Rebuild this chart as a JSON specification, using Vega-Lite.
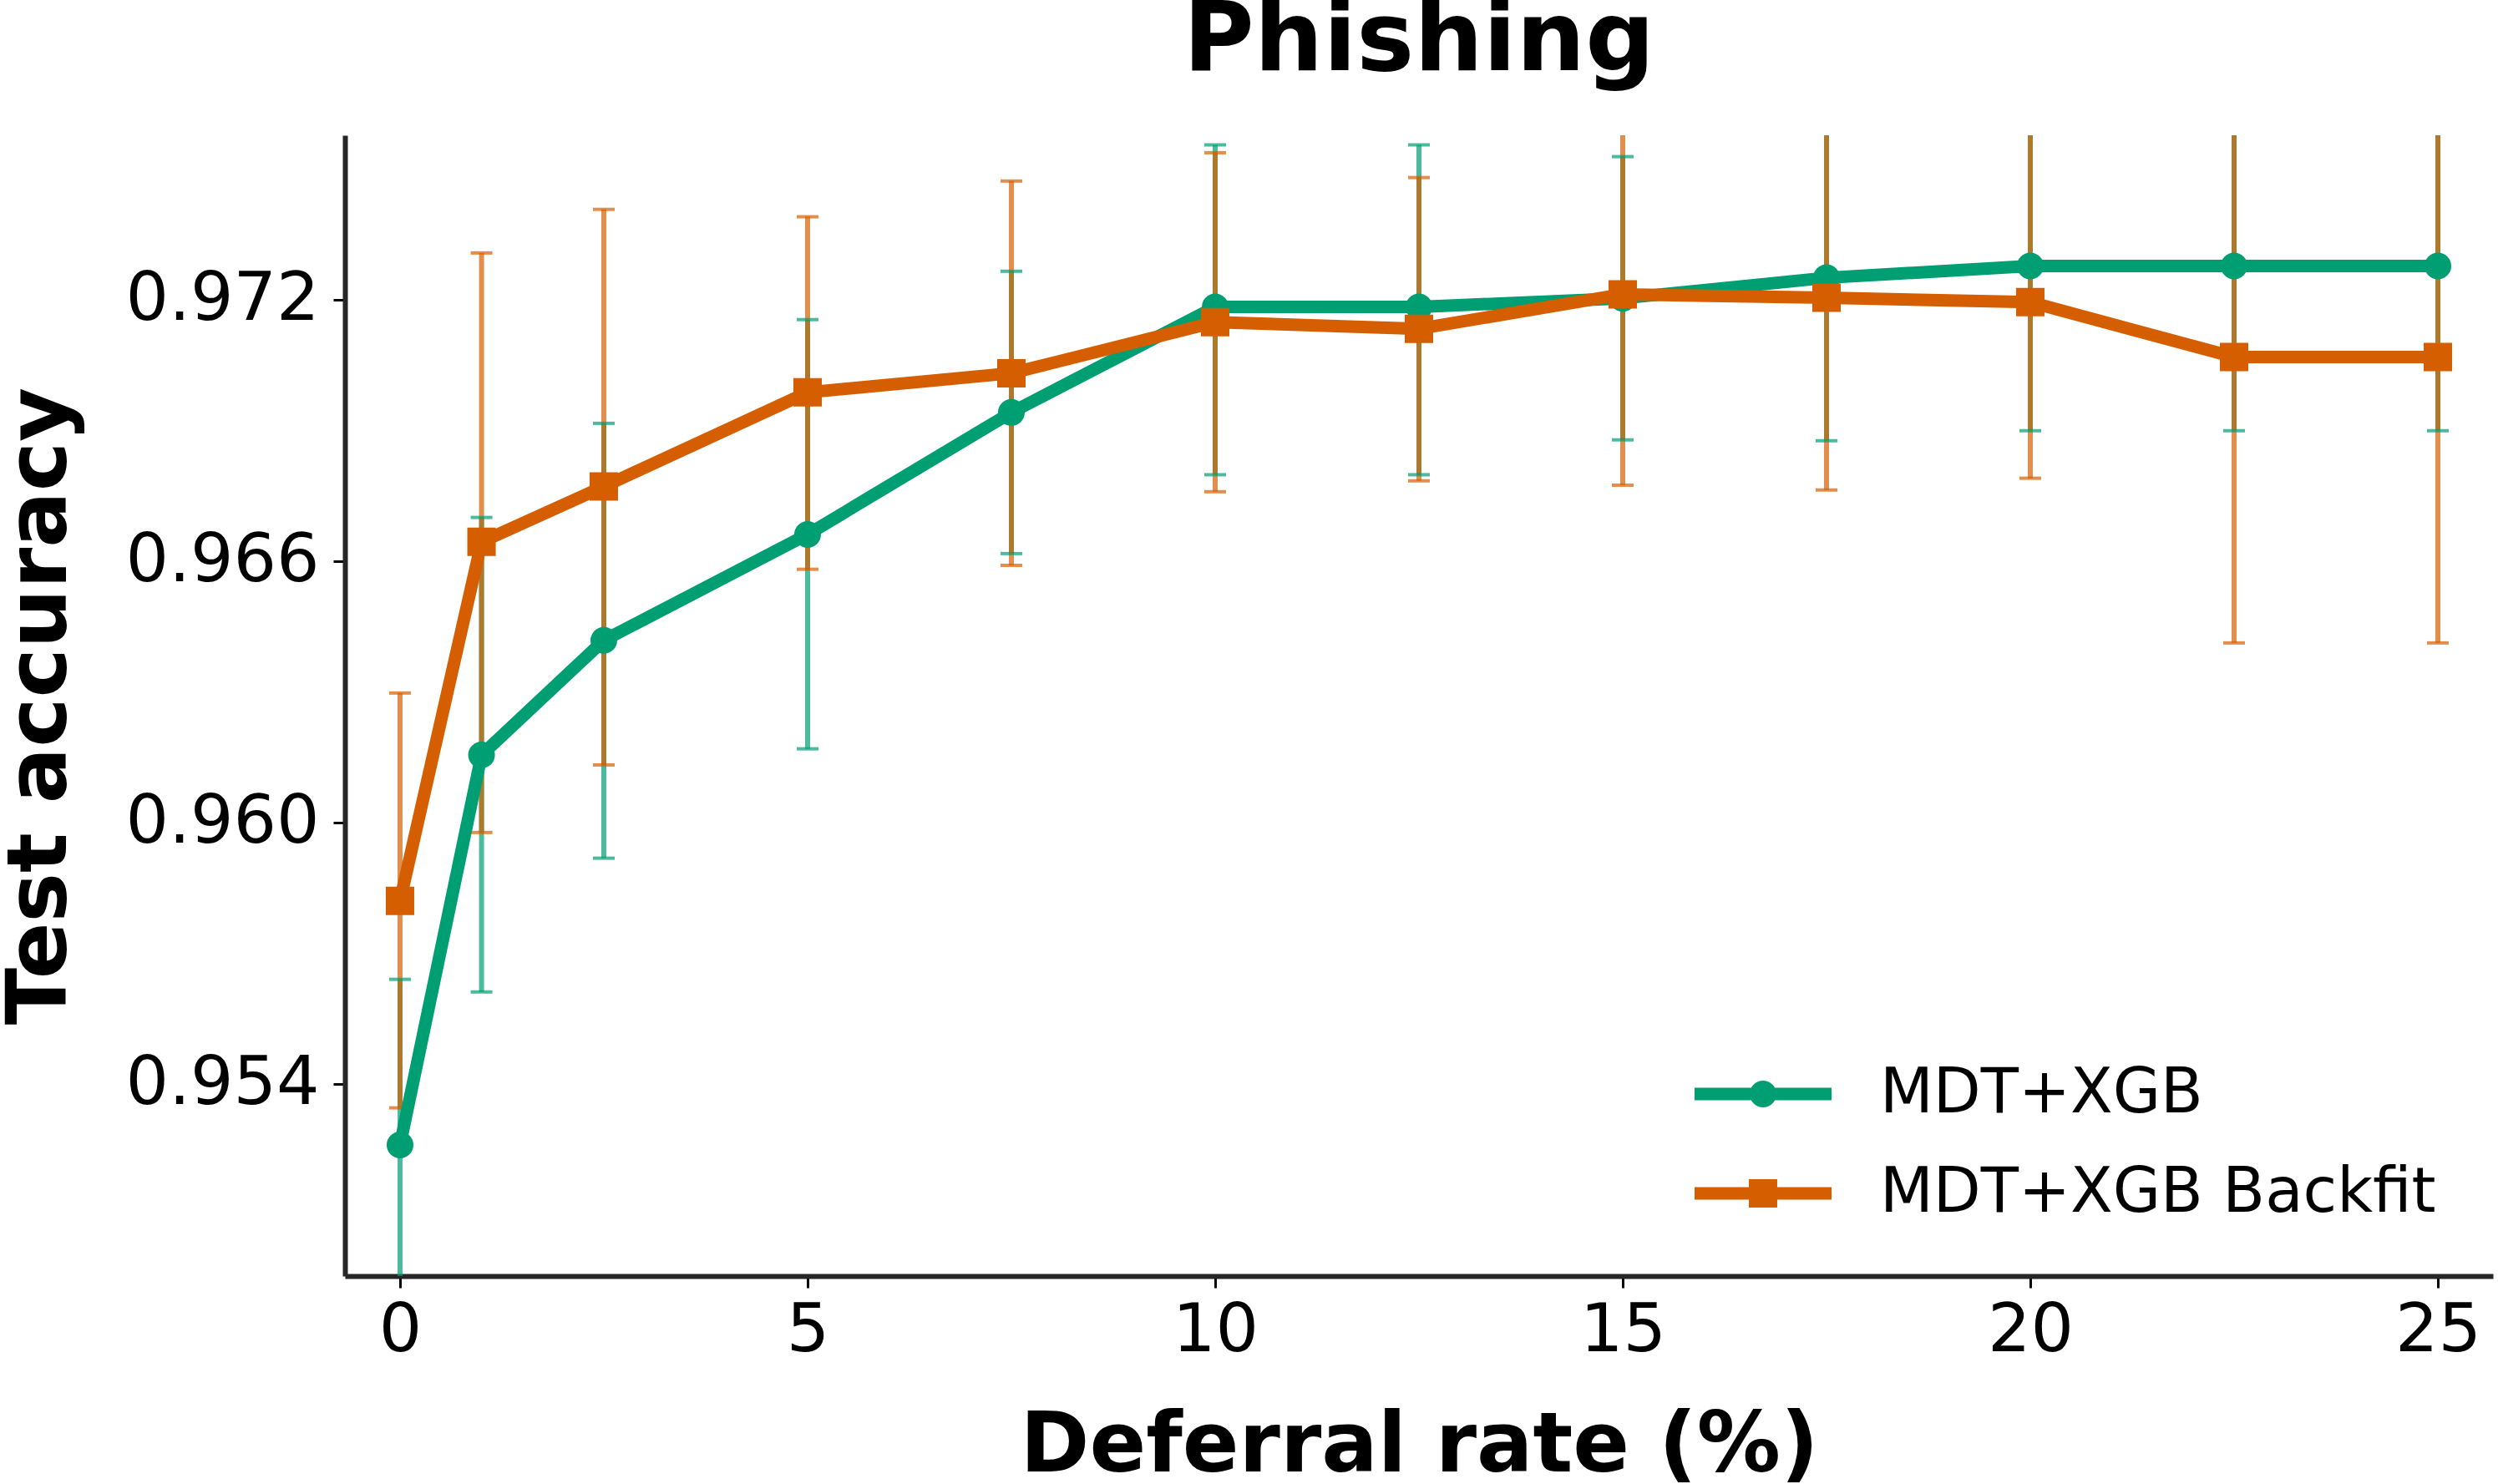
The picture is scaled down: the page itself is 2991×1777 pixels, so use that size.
{
  "$schema": "https://vega.github.io/schema/vega-lite/v6.json",
  "width": 2572,
  "height": 1366,
  "autosize": {"type": "none"},
  "padding": {"left": 413, "top": 162, "right": 6, "bottom": 249},
  "background": "white",
  "title": {"text": "Phishing", "fontSize": 116, "fontWeight": "bold", "font": "DejaVu Sans", "color": "black", "anchor": "middle", "frame": "group", "baseline": "bottom", "offset": -62},
  "config": {
    "view": {"stroke": null},
    "font": "DejaVu Sans",
    "axis": {"grid": false, "labelFont": "DejaVu Sans", "titleFont": "DejaVu Sans", "labelColor": "black", "titleColor": "black", "tickColor": "black", "tickWidth": 3, "tickSize": 14, "domainColor": "#262626", "domainWidth": 6, "labelLimit": 600, "titleLimit": 3000, "labelOverlap": false, "labelFlush": false, "titleFontWeight": "bold"}
  },
  "data": {"values": [
    {"series": "MDT+XGB", "rate": 0, "acc": 0.95260, "lo": 0.94880, "hi": 0.95640},
    {"series": "MDT+XGB", "rate": 1, "acc": 0.96155, "lo": 0.95611, "hi": 0.96700},
    {"series": "MDT+XGB", "rate": 2.5, "acc": 0.96418, "lo": 0.95918, "hi": 0.96916},
    {"series": "MDT+XGB", "rate": 5, "acc": 0.96661, "lo": 0.96169, "hi": 0.97154},
    {"series": "MDT+XGB", "rate": 7.5, "acc": 0.96941, "lo": 0.96617, "hi": 0.97265},
    {"series": "MDT+XGB", "rate": 10, "acc": 0.97183, "lo": 0.96798, "hi": 0.97555},
    {"series": "MDT+XGB", "rate": 12.5, "acc": 0.97183, "lo": 0.96798, "hi": 0.97555},
    {"series": "MDT+XGB", "rate": 15, "acc": 0.97203, "lo": 0.96878, "hi": 0.97528},
    {"series": "MDT+XGB", "rate": 17.5, "acc": 0.97250, "lo": 0.96876, "hi": 0.97624},
    {"series": "MDT+XGB", "rate": 20, "acc": 0.97277, "lo": 0.96899, "hi": 0.97655},
    {"series": "MDT+XGB", "rate": 22.5, "acc": 0.97277, "lo": 0.96899, "hi": 0.97655},
    {"series": "MDT+XGB", "rate": 25, "acc": 0.97277, "lo": 0.96899, "hi": 0.97655},
    {"series": "MDT+XGB Backfit", "rate": 0, "acc": 0.95820, "lo": 0.95345, "hi": 0.96297},
    {"series": "MDT+XGB Backfit", "rate": 1, "acc": 0.96644, "lo": 0.95977, "hi": 0.97307},
    {"series": "MDT+XGB Backfit", "rate": 2.5, "acc": 0.96771, "lo": 0.96132, "hi": 0.97407},
    {"series": "MDT+XGB Backfit", "rate": 5, "acc": 0.96987, "lo": 0.96581, "hi": 0.97390},
    {"series": "MDT+XGB Backfit", "rate": 7.5, "acc": 0.97031, "lo": 0.96590, "hi": 0.97472},
    {"series": "MDT+XGB Backfit", "rate": 10, "acc": 0.97148, "lo": 0.96759, "hi": 0.97537},
    {"series": "MDT+XGB Backfit", "rate": 12.5, "acc": 0.97133, "lo": 0.96784, "hi": 0.97480},
    {"series": "MDT+XGB Backfit", "rate": 15, "acc": 0.97212, "lo": 0.96774, "hi": 0.97650},
    {"series": "MDT+XGB Backfit", "rate": 17.5, "acc": 0.97204, "lo": 0.96763, "hi": 0.97645},
    {"series": "MDT+XGB Backfit", "rate": 20, "acc": 0.97194, "lo": 0.96790, "hi": 0.97598},
    {"series": "MDT+XGB Backfit", "rate": 22.5, "acc": 0.97068, "lo": 0.96412, "hi": 0.97724},
    {"series": "MDT+XGB Backfit", "rate": 25, "acc": 0.97068, "lo": 0.96412, "hi": 0.97724}
  ]},
  "encoding": {
    "x": {"field": "rate", "type": "quantitative", "scale": {"domain": [-0.676, 25.676], "nice": false, "zero": false},
      "axis": {"values": [0, 5, 10, 15, 20, 25], "title": "Deferral rate (%)", "titleFontSize": 100, "labelFontSize": 81, "labelPadding": 11, "titlePadding": 49}},
    "color": {"field": "series", "type": "nominal", "scale": {"domain": ["MDT+XGB", "MDT+XGB Backfit"], "range": ["#009E73", "#D55E00"]},
      "legend": {"orient": "none", "legendX": 1616, "legendY": 1066, "title": null, "padding": 0,
        "labelFontSize": 74, "labelFont": "DejaVu Sans", "labelColor": "black", "labelOffset": 58, "labelLimit": 1500,
        "rowPadding": -18, "symbolSize": 1156, "symbolType": "circle", "symbolOpacity": 1,
        "encode": {"symbols": {"update": {
          "shape": {"signal": "datum.value === 'MDT+XGB' ? 'M-1,-0.09H1V0.09H-1Z M-0.195,0A0.195,0.195 0 1,1 0.195,0A0.195,0.195 0 1,1 -0.195,0Z' : 'M-1,-0.09H1V0.09H-1Z M-0.207,-0.207H0.207V0.207H-0.207Z'"},
          "size": {"value": 26896},
          "fill": {"signal": "datum.value === 'MDT+XGB' ? '#009E73' : '#D55E00'"},
          "strokeWidth": {"value": 0},
          "opacity": {"value": 1},
          "fillOpacity": {"value": 1}
        }}}
      }}
  },
  "layer": [
    {
      "mark": {"type": "rule", "strokeWidth": 6, "opacity": 0.7, "clip": true},
      "encoding": {
        "y": {"field": "lo", "type": "quantitative", "title": "Test accuracy", "scale": {"domain": [0.94959, 0.97577], "nice": false, "zero": false, "clamp": true},
          "axis": {"values": [0.954, 0.96, 0.966, 0.972], "format": ".3f", "titleFontSize": 100, "labelFontSize": 81, "labelPadding": 17, "titlePadding": 114}},
        "y2": {"field": "hi"}
      }
    },
    {
      "transform": [{"filter": "datum.lo >= 0.94959"}],
      "mark": {"type": "tick", "orient": "horizontal", "size": 26, "thickness": 4, "opacity": 0.7, "clip": true},
      "encoding": {"y": {"field": "lo", "type": "quantitative", "title": "Test accuracy"}}
    },
    {
      "transform": [{"filter": "datum.hi <= 0.97577"}],
      "mark": {"type": "tick", "orient": "horizontal", "size": 26, "thickness": 4, "opacity": 0.7, "clip": true},
      "encoding": {"y": {"field": "hi", "type": "quantitative", "title": "Test accuracy"}}
    },
    {
      "transform": [{"filter": "datum.series === 'MDT+XGB'"}],
      "mark": {"type": "line", "strokeWidth": 15, "strokeJoin": "round", "clip": true},
      "encoding": {"y": {"field": "acc", "type": "quantitative", "title": "Test accuracy"}}
    },
    {
      "transform": [{"filter": "datum.series === 'MDT+XGB'"}],
      "mark": {"type": "point", "shape": "circle", "filled": true, "size": 1024, "opacity": 1, "clip": true},
      "encoding": {"y": {"field": "acc", "type": "quantitative", "title": "Test accuracy"}}
    },
    {
      "transform": [{"filter": "datum.series === 'MDT+XGB Backfit'"}],
      "mark": {"type": "line", "strokeWidth": 15, "strokeJoin": "round", "clip": true},
      "encoding": {"y": {"field": "acc", "type": "quantitative", "title": "Test accuracy"}}
    },
    {
      "transform": [{"filter": "datum.series === 'MDT+XGB Backfit'"}],
      "mark": {"type": "point", "shape": "square", "filled": true, "size": 1156, "opacity": 1, "clip": true},
      "encoding": {"y": {"field": "acc", "type": "quantitative", "title": "Test accuracy"}}
    }
  ]
}
